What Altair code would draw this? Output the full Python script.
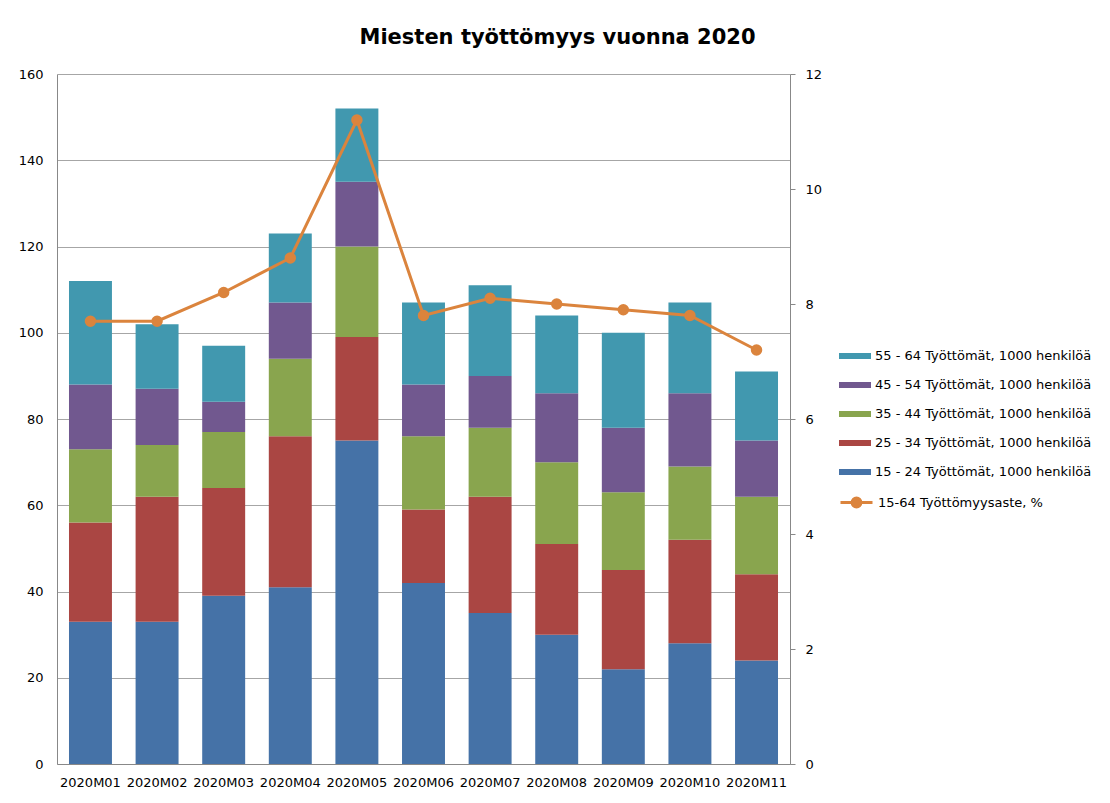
import altair as alt
import pandas as pd

months = ["2020M01", "2020M02", "2020M03", "2020M04", "2020M05", "2020M06",
          "2020M07", "2020M08", "2020M09", "2020M10", "2020M11"]
age_15_24 = [33, 33, 39, 41, 75, 42, 35, 30, 22, 28, 24]
age_25_34 = [23, 29, 25, 35, 24, 17, 27, 21, 23, 24, 20]
age_35_44 = [17, 12, 13, 18, 21, 17, 16, 19, 18, 17, 18]
age_45_54 = [15, 13, 7, 13, 15, 12, 12, 16, 15, 17, 13]
age_55_64 = [24, 15, 13, 16, 17, 19, 21, 18, 22, 21, 16]
rate_15_64 = [7.7, 7.7, 8.2, 8.8, 11.2, 7.8, 8.1, 8.0, 7.9, 7.8, 7.2]

series_names = [
    "15 - 24 Työttömät, 1000 henkilöä",
    "25 - 34 Työttömät, 1000 henkilöä",
    "35 - 44 Työttömät, 1000 henkilöä",
    "45 - 54 Työttömät, 1000 henkilöä",
    "55 - 64 Työttömät, 1000 henkilöä",
]
series_colors = ["#4572A7", "#AA4643", "#89A54E", "#71588F", "#4198AF"]
line_name = "15-64 Työttömyysaste, %"
line_color = "#DB843D"

rows = []
for s_idx, (name, vals) in enumerate(zip(series_names, [age_15_24, age_25_34, age_35_44, age_45_54, age_55_64])):
    for m, v in zip(months, vals):
        rows.append({"kuukausi": m, "sarja": name, "arvo": v, "jarj": s_idx})
bars_df = pd.DataFrame(rows)
line_df = pd.DataFrame({"kuukausi": months, "arvo": rate_15_64, "sarja": [line_name] * len(months)})

FONT = "DejaVu Sans"

x_enc = alt.X("kuukausi:N", sort=months, title=None,
              scale=alt.Scale(paddingInner=0.355, paddingOuter=0.18),
              axis=alt.Axis(labelAngle=0, ticks=False, labelPadding=12, domainColor="#888888",
                            labelFont=FONT, labelFontSize=13, labelColor="#000000"))

bars = alt.Chart(bars_df).mark_bar().encode(
    x=x_enc,
    y=alt.Y("arvo:Q", title=None, stack="zero",
            scale=alt.Scale(domain=[0, 160], nice=False),
            axis=alt.Axis(values=list(range(0, 161, 20)), ticks=False, labelPadding=14,
                          grid=True, gridColor="#A6A6A6", domainColor="#888888",
                          labelFont=FONT, labelFontSize=13, labelColor="#000000")),
    fill=alt.Fill("sarja:N",
                  scale=alt.Scale(domain=series_names[::-1], range=series_colors[::-1]),
                  legend=alt.Legend(title=None, orient="none", legendX=790, legendY=274,
                                    symbolType="M-2,-0.375H2V0.375H-2Z", symbolSize=256,
                                    symbolStrokeWidth=0, labelOffset=12, rowPadding=14,
                                    labelLimit=400,
                                    labelFont=FONT, labelFontSize=13, labelColor="#000000")),
    order=alt.Order("jarj:Q", sort="ascending"),
)

line = alt.Chart(line_df).mark_line(
    strokeWidth=3,
    point=alt.OverlayMarkDef(filled=True, size=90, color=line_color),
).encode(
    x=alt.X("kuukausi:N", sort=months),
    y=alt.Y("arvo:Q", title=None,
            scale=alt.Scale(domain=[0, 12], nice=False),
            axis=alt.Axis(orient="right", values=list(range(0, 13, 2)), ticks=True, tickSize=5,
                          tickColor="#888888", labelPadding=10, grid=False, domainColor="#888888",
                          labelFont=FONT, labelFontSize=13, labelColor="#000000")),
    stroke=alt.Stroke("sarja:N",
                      scale=alt.Scale(domain=[line_name], range=[line_color]),
                      legend=alt.Legend(title=None, orient="none", legendX=790, legendY=419,
                                        symbolType="M-2,0H2M-0.55,0A0.55,0.55 0 1,1 0.55,0A0.55,0.55 0 1,1 -0.55,0",
                                        symbolSize=256, symbolStrokeWidth=3,
                                        symbolFillColor=line_color, symbolStrokeColor=line_color,
                                        labelOffset=12, labelLimit=400,
                                        labelFont=FONT, labelFontSize=13, labelColor="#000000")),
)

chart = alt.layer(bars, line).resolve_scale(y="independent").properties(
    width=733,
    height=690,
    title=alt.TitleParams("Miesten työttömyys vuonna 2020", font=FONT, fontSize=21,
                          fontWeight="bold", color="#000000", anchor="middle",
                          dx=134, offset=20),
    autosize=alt.AutoSizeParams(type="none"),
    padding={"left": 49, "top": 66, "right": 311, "bottom": 30},
).configure_view(stroke=None)

chart.save("out.html", embed_options={"renderer": "svg", "actions": False})
